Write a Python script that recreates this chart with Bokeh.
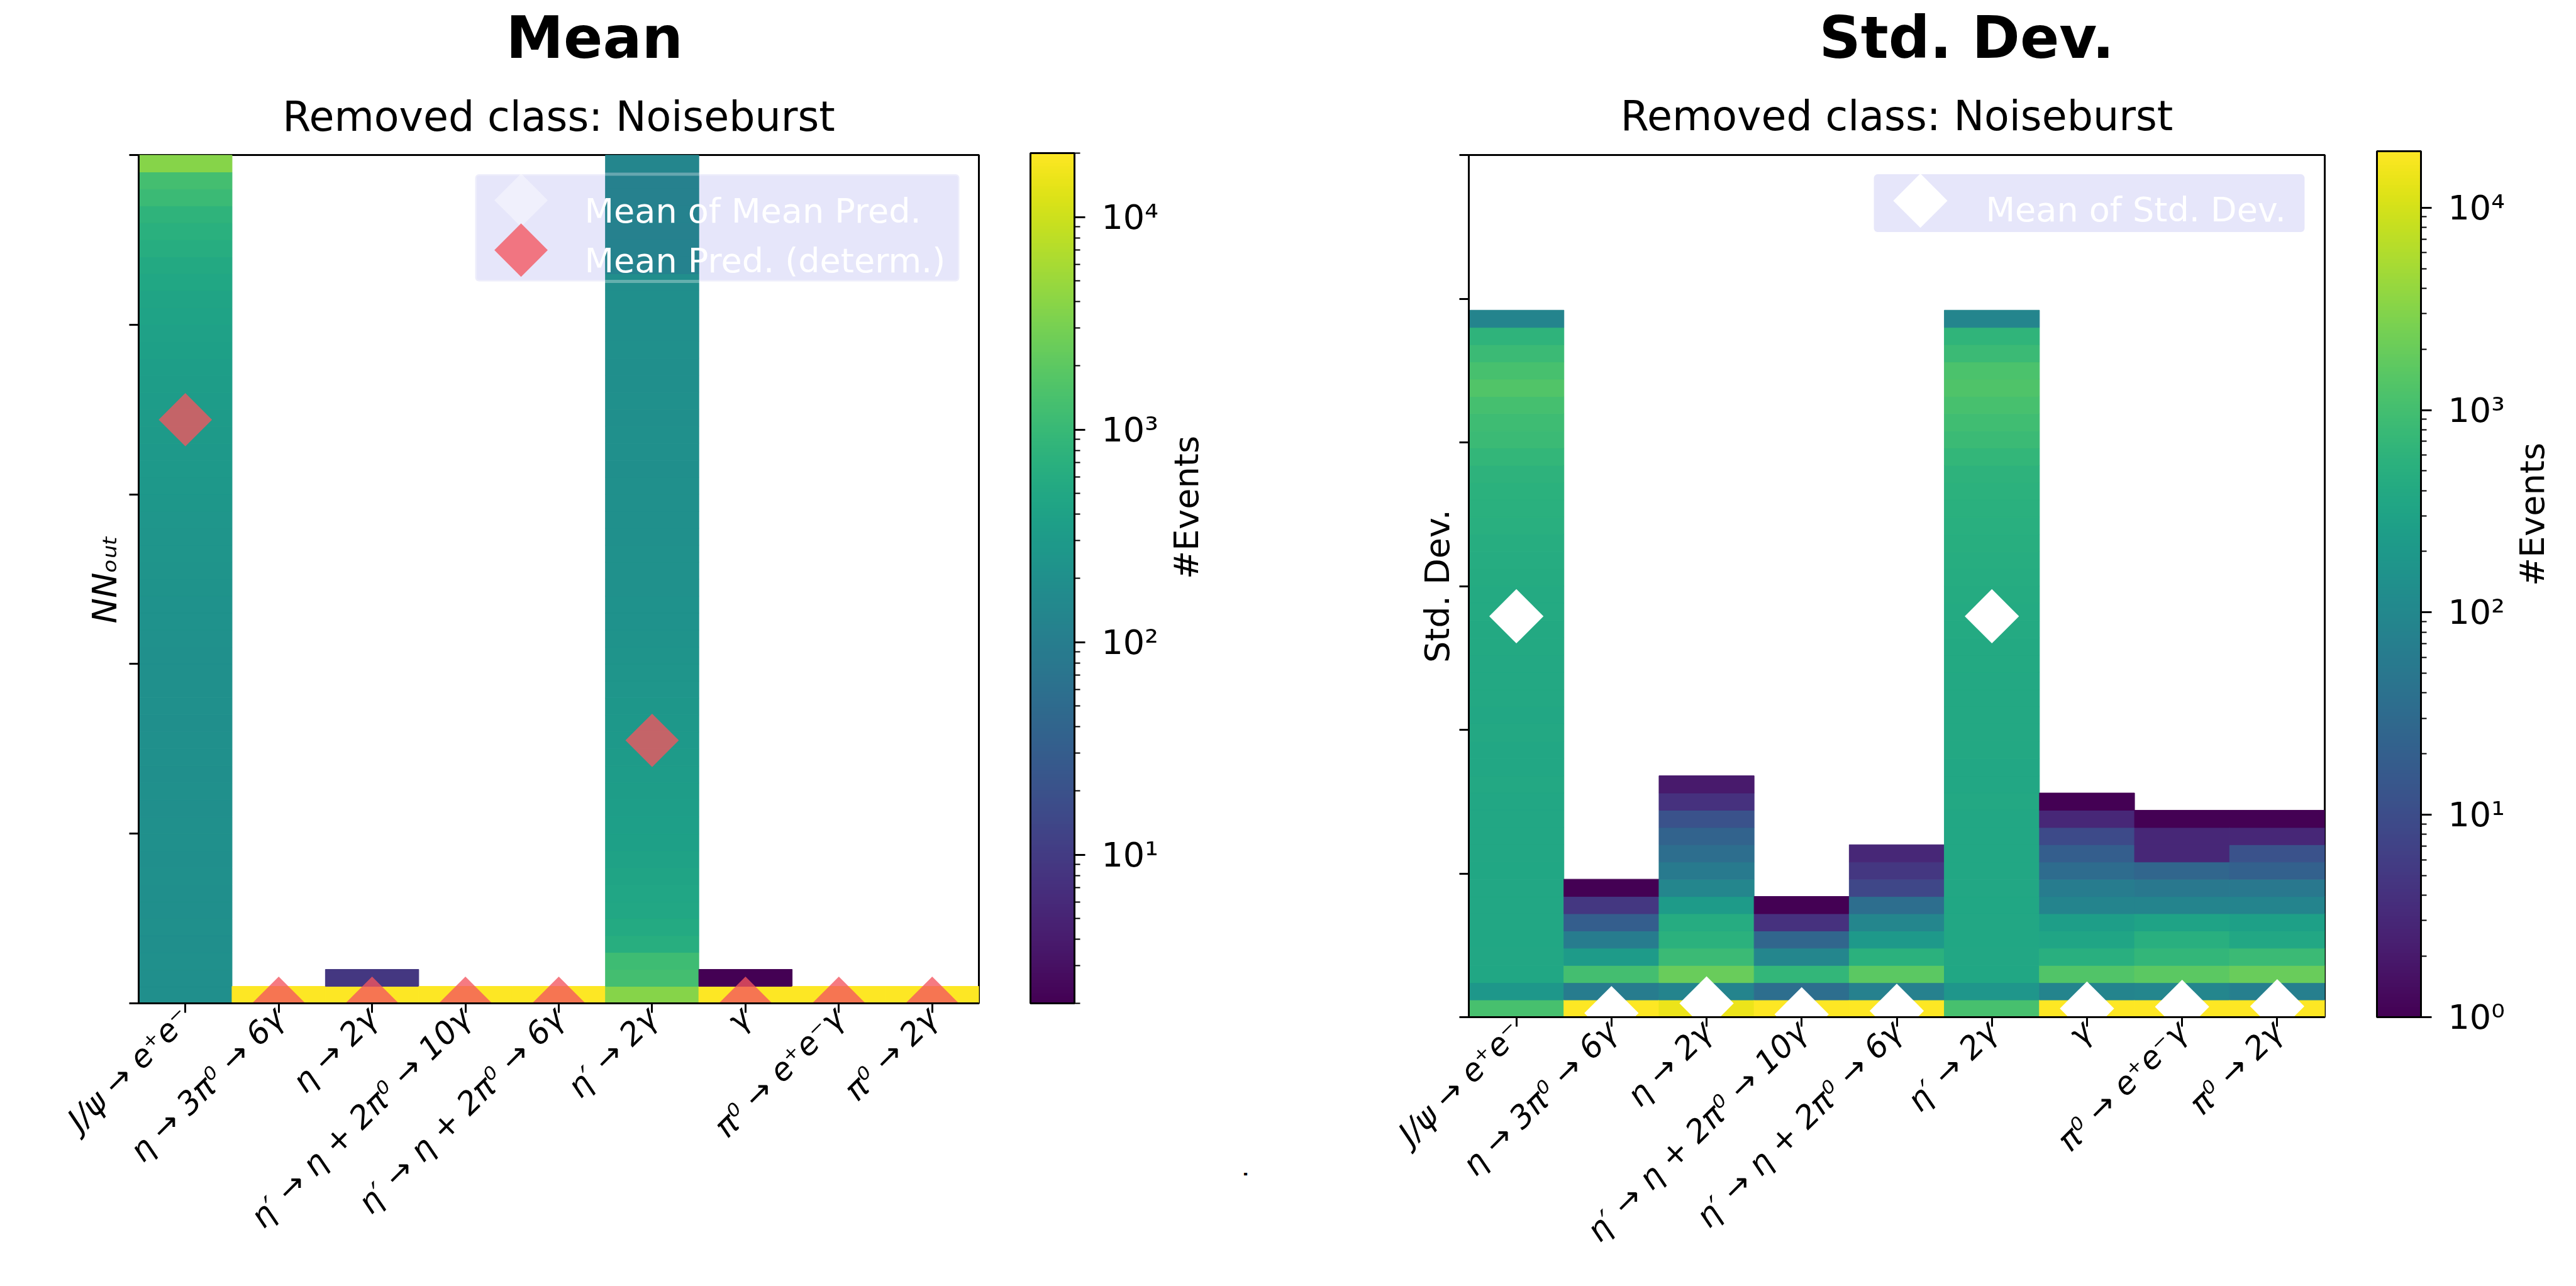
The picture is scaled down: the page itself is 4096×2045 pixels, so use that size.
import math
from bokeh.plotting import figure
from bokeh.models import (Range1d, FixedTicker, ColorBar, LogColorMapper, Label, Title,
                          BoxAnnotation, LinearAxis, CustomJSTickFormatter, ColumnDataSource)
from bokeh.palettes import Viridis256
from bokeh.layouts import row
from bokeh.embed import file_html
from bokeh.resources import INLINE

FONT = "DejaVu Sans"

# ---------------- data ----------------
categories = ["J/ψ → e⁺e⁻", "η → 3π⁰ → 6γ", "η → 2γ", "η′ → η + 2π⁰ → 10γ",
              "η′ → η + 2π⁰ → 6γ", "η′ → 2γ", "γ", "π⁰ → e⁺e⁻γ", "π⁰ → 2γ"]

# Mean panel: #events per NN_out bin (bin width 0.02, from 0 upward)
mean_bin_width = 0.02
mean_jpsi = [200, 196, 202, 198, 204, 200, 197, 203, 199, 205, 201, 198, 204, 200, 206, 202, 199, 205, 203, 207,
             205, 210, 215, 220, 226, 233, 240, 248, 255, 262, 270, 280, 290, 300, 310, 320, 335, 350, 370, 390,
             420, 440, 480, 530, 630, 690, 800, 1050, 1260, 3800]
mean_eta3pi = [24000]
mean_eta2g = [24000, 9]
mean_etap10 = [24000]
mean_etap6 = [24000]
mean_etap2g = [3800, 1260, 1150, 650, 560, 500, 460, 430, 400, 380, 360, 345, 335, 325, 310, 290, 275, 265, 255, 245,
               235, 230, 222, 218, 214, 210, 208, 205, 203, 206, 202, 200, 204, 201, 198, 203, 200, 197, 202, 199,
               196, 194, 190, 120, 118, 115, 117, 114, 116, 138]
mean_gamma = [24000, 2]
mean_pi0eeg = [24000]
mean_pi02g = [24000]

mean_of_mean_pred = [0.688, 0.0, 0.0, 0.0, 0.0, 0.31, 0.0, 0.0, 0.0]
mean_pred_determ = [0.688, 0.0, 0.0, 0.0, 0.0, 0.31, 0.0, 0.0, 0.0]
mean_yticks = [0, 0.2, 0.4, 0.6, 0.8, 1.0]
mean_cmap_low, mean_cmap_high = 2, 20000

# Std. Dev. panel: #events per std-dev bin (bin width 0.006, from 0 upward)
std_bin_width = 0.006
std_jpsi = [1100, 185, 360, 365, 358, 362, 370, 366, 360, 372, 368, 364, 370, 375, 368, 372, 378, 374, 380, 376,
            385, 392, 400, 410, 420, 435, 450, 470, 500, 530, 550, 575, 670, 810, 900, 1040, 1320, 1100, 810, 600, 85]
std_eta3pi = [25000, 63, 1000, 225, 63, 19, 5, 1]
std_eta2g = [14000, 85, 2000, 810, 550, 450, 225, 93, 57, 35, 23, 12, 4, 2]
std_etap10 = [25000, 35, 670, 93, 26, 4, 1]
std_etap6 = [25000, 77, 1600, 550, 200, 93, 35, 8, 5, 3]
std_etap2g = [1080, 180, 355, 362, 360, 366, 358, 368, 372, 365, 370, 368, 375, 370, 372, 380, 376, 382, 378, 385,
              390, 398, 405, 415, 425, 440, 455, 480, 505, 525, 560, 590, 690, 820, 920, 1080, 1280, 1150, 830, 620, 88]
std_gamma = [25000, 85, 1300, 500, 330, 250, 85, 63, 32, 19, 9, 3, 1]
std_pi0eeg = [25000, 93, 1600, 670, 500, 300, 85, 52, 26, 3, 3, 1]
std_pi02g = [25000, 70, 2000, 810, 370, 270, 85, 52, 21, 12, 3, 1]

mean_of_std = [0.1395, 0.0014, 0.0048, 0.001, 0.0022, 0.1395, 0.003, 0.0036, 0.0038]
std_yticks = [0, 0.05, 0.1, 0.15, 0.2, 0.25, 0.3]
std_cmap_low, std_cmap_high = 1, 19000

cbar_major_mean = [10, 100, 1000, 10000]
cbar_minor_mean = [2, 3, 4, 5, 6, 7, 8, 9, 20, 30, 40, 50, 60, 70, 80, 90, 200, 300, 400, 500, 600, 700, 800, 900,
                   2000, 3000, 4000, 5000, 6000, 7000, 8000, 9000, 20000]
cbar_major_std = [1, 10, 100, 1000, 10000]
cbar_minor_std = [2, 3, 4, 5, 6, 7, 8, 9, 20, 30, 40, 50, 60, 70, 80, 90, 200, 300, 400, 500, 600, 700, 800, 900,
                  2000, 3000, 4000, 5000, 6000, 7000, 8000, 9000]

mean_cols = [mean_jpsi, mean_eta3pi, mean_eta2g, mean_etap10, mean_etap6, mean_etap2g, mean_gamma, mean_pi0eeg, mean_pi02g]
std_cols = [std_jpsi, std_eta3pi, std_eta2g, std_etap10, std_etap6, std_etap2g, std_gamma, std_pi0eeg, std_pi02g]


def hist_source(cols, bw):
    d = dict(left=[], right=[], bottom=[], top=[], count=[])
    for i, counts in enumerate(cols):
        for b, c in enumerate(counts):
            d["left"].append(i)
            d["right"].append(i + 1)
            d["bottom"].append(b * bw)
            d["top"].append((b + 1) * bw)
            d["count"].append(c)
    return ColumnDataSource(d)


def style_axes(p, yticks, ylabel, ylabel_style, ylabel_standoff):
    p.xgrid.visible = False
    p.ygrid.visible = False
    p.outline_line_color = "black"
    p.outline_line_width = 3
    p.outline_line_alpha = 1
    p.background_fill_color = "white"
    p.border_fill_color = "white"
    xa = p.xaxis[0]
    ya = p.yaxis[0]
    xa.ticker = FixedTicker(ticks=[i + 0.5 for i in range(len(categories))])
    xa.formatter = CustomJSTickFormatter(args=dict(cats=categories),
                                         code="const i = Math.floor(tick); return (i >= 0 && i < cats.length) ? cats[i] : '';")
    xa.major_label_orientation = math.pi / 4
    xa.major_label_text_font = FONT
    xa.major_label_text_font_style = "italic"
    xa.major_label_text_font_size = "50px"
    xa.major_label_text_color = "black"
    xa.major_label_standoff = 0
    for ax in (xa, ya):
        ax.axis_line_width = 3
        ax.axis_line_color = "black"
        ax.major_tick_line_width = 3
        ax.major_tick_line_color = "black"
        ax.major_tick_out = 15
        ax.major_tick_in = 0
        ax.minor_tick_line_color = None
    ya.ticker = FixedTicker(ticks=yticks)
    ya.formatter = CustomJSTickFormatter(code="return '';")
    ya.major_label_standoff = 0
    ya.axis_label = ylabel
    ya.axis_label_text_font = FONT
    ya.axis_label_text_font_size = "54px"
    ya.axis_label_text_font_style = ylabel_style
    ya.axis_label_text_color = "black"
    ya.axis_label_standoff = ylabel_standoff


def add_cbar(p, mapper, major, minor, x, h):
    cb = ColorBar(color_mapper=mapper, location=(x, 0), width=70, height=h,
                  padding=0, margin=0,
                  ticker=FixedTicker(ticks=major, minor_ticks=minor),
                  formatter=CustomJSTickFormatter(code="const sup = ['⁰','¹','²','³','⁴','⁵']; const e = Math.round(Math.log10(tick)); return '10' + sup[e];"),
                  major_tick_out=17, major_tick_in=0, minor_tick_out=9, minor_tick_in=0,
                  major_tick_line_color="black", major_tick_line_width=3,
                  minor_tick_line_color="black", minor_tick_line_width=2,
                  bar_line_color="black", bar_line_width=3,
                  major_label_text_font=FONT, major_label_text_font_size="54px",
                  major_label_text_color="black",
                  label_standoff=26, background_fill_alpha=0, border_line_color=None)
    p.add_layout(cb)


def add_events_axis(p, standoff):
    ax = LinearAxis(axis_label="#Events", axis_label_standoff=standoff,
                    axis_label_text_font=FONT, axis_label_text_font_size="54px",
                    axis_label_text_font_style="normal", axis_label_text_color="black",
                    axis_line_color=None, major_tick_line_color=None, minor_tick_line_color=None,
                    major_tick_out=0, major_tick_in=0, minor_tick_out=0, minor_tick_in=0,
                    major_label_standoff=0, formatter=CustomJSTickFormatter(code="return '';"))
    if "axis_label_orientation" in LinearAxis.properties():
        ax.axis_label_orientation = math.pi / 2
    p.add_layout(ax, "right")


def add_titles(p, main, main_offset, main_standoff, sub_standoff):
    p.add_layout(Title(text="Removed class: Noiseburst", align="center", standoff=sub_standoff,
                       vertical_align="bottom",
                       text_font=FONT, text_font_size="65px", text_font_style="normal",
                       text_color="black"), "above")
    p.add_layout(Title(text=main, align="left", offset=main_offset, standoff=main_standoff,
                       vertical_align="top",
                       text_font=FONT, text_font_size="92px", text_font_style="bold",
                       text_color="black"), "above")


def legend_text(p, x, y, text):
    p.add_layout(Label(x=x, y=y, x_units="screen", y_units="screen", text=text,
                       text_font=FONT, text_font_size="54px", text_color="white",
                       text_align="left", text_baseline="alphabetic"))


n = len(categories)
xc = [i + 0.5 for i in range(n)]

# ---------------- Mean panel ----------------
p1 = figure(width=2047, height=2023, x_range=Range1d(0, n), y_range=Range1d(0, 1), title=None,
            output_backend="svg", toolbar_location=None,
            min_border_left=220, min_border_right=491, min_border_top=243, min_border_bottom=428)
style_axes(p1, mean_yticks, "NNₒᵤₜ", "italic", 8)
m1 = LogColorMapper(palette=Viridis256, low=mean_cmap_low, high=mean_cmap_high)

# legend frame (drawn under the histogram, as in the reference)
p1.add_layout(BoxAnnotation(left=3.604, right=8.791, bottom=0.851, top=0.9774,
                            fill_color="lavender", fill_alpha=1, line_color=None,
                            level="underlay", border_radius=6))
r_white1 = p1.scatter(x=xc, y=mean_of_mean_pred, marker="square", angle=math.pi / 4, size=60,
                      fill_color="white", fill_alpha=0.4, line_color=None)
r_white1.level = "underlay"
p1.quad(left="left", right="right", bottom="bottom", top="top", source=hist_source(mean_cols, mean_bin_width),
        fill_color={"field": "count", "transform": m1},
        line_color={"field": "count", "transform": m1}, line_width=1)
p1.scatter(x=xc, y=mean_pred_determ, marker="square", angle=math.pi / 4, size=60,
           fill_color="#f3555f", fill_alpha=0.78, line_color=None)
p1.add_layout(BoxAnnotation(left=3.604, right=8.791, bottom=0.851, top=0.9774,
                            fill_alpha=0, line_color="white", line_width=5, border_radius=6))
# legend keys and labels
p1.scatter(x=[4.096], y=[0.9467], marker="square", angle=math.pi / 4, size=60,
           fill_color="white", fill_alpha=0.4, line_color=None)
p1.scatter(x=[4.096], y=[0.8879], marker="square", angle=math.pi / 4, size=60,
           fill_color="#f3555f", fill_alpha=0.78, line_color=None)
legend_text(p1, 709, 1260, "Mean of Mean Pred.")
legend_text(p1, 709, 1181, "Mean Pred. (determ.)")

add_cbar(p1, m1, cbar_major_mean, cbar_minor_mean, 1418, 1352)
add_events_axis(p1, 330)
p1.add_layout(Title(text=".", align="right", offset=-278, standoff=50,
                    text_font=FONT, text_font_size="40px", text_font_style="normal",
                    text_color="black"), "right")
add_titles(p1, "Mean", 584, 12, 48)

# ---------------- Std. Dev. panel ----------------
p2 = figure(width=2049, height=2045, x_range=Range1d(0, n), y_range=Range1d(0, 0.3), title=None,
            output_backend="svg", toolbar_location=None,
            min_border_left=288, min_border_right=400, min_border_top=240, min_border_bottom=428)
style_axes(p2, std_yticks, "Std. Dev.", "normal", 4)
m2 = LogColorMapper(palette=Viridis256, low=std_cmap_low, high=std_cmap_high)

p2.add_layout(BoxAnnotation(left=4.259, right=8.788, bottom=0.2732, top=0.2933,
                            fill_color="lavender", fill_alpha=1, line_color=None,
                            level="underlay", border_radius=6))
p2.quad(left="left", right="right", bottom="bottom", top="top", source=hist_source(std_cols, std_bin_width),
        fill_color={"field": "count", "transform": m2},
        line_color={"field": "count", "transform": m2}, line_width=1)
p2.scatter(x=xc, y=mean_of_std, marker="square", angle=math.pi / 4, size=61,
           fill_color="white", fill_alpha=1, line_color=None)
p2.scatter(x=[4.748], y=[0.2841], marker="square", angle=math.pi / 4, size=61,
           fill_color="white", fill_alpha=1, line_color=None)
legend_text(p2, 822, 1284, "Mean of Std. Dev.")

add_cbar(p2, m2, cbar_major_std, cbar_minor_std, 1444, 1377)
add_events_axis(p2, 330)
add_titles(p2, "Std. Dev.", 557, 7, 50)

layout = row(p1, p2)
open("out.html", "w").write(file_html(layout, INLINE))
